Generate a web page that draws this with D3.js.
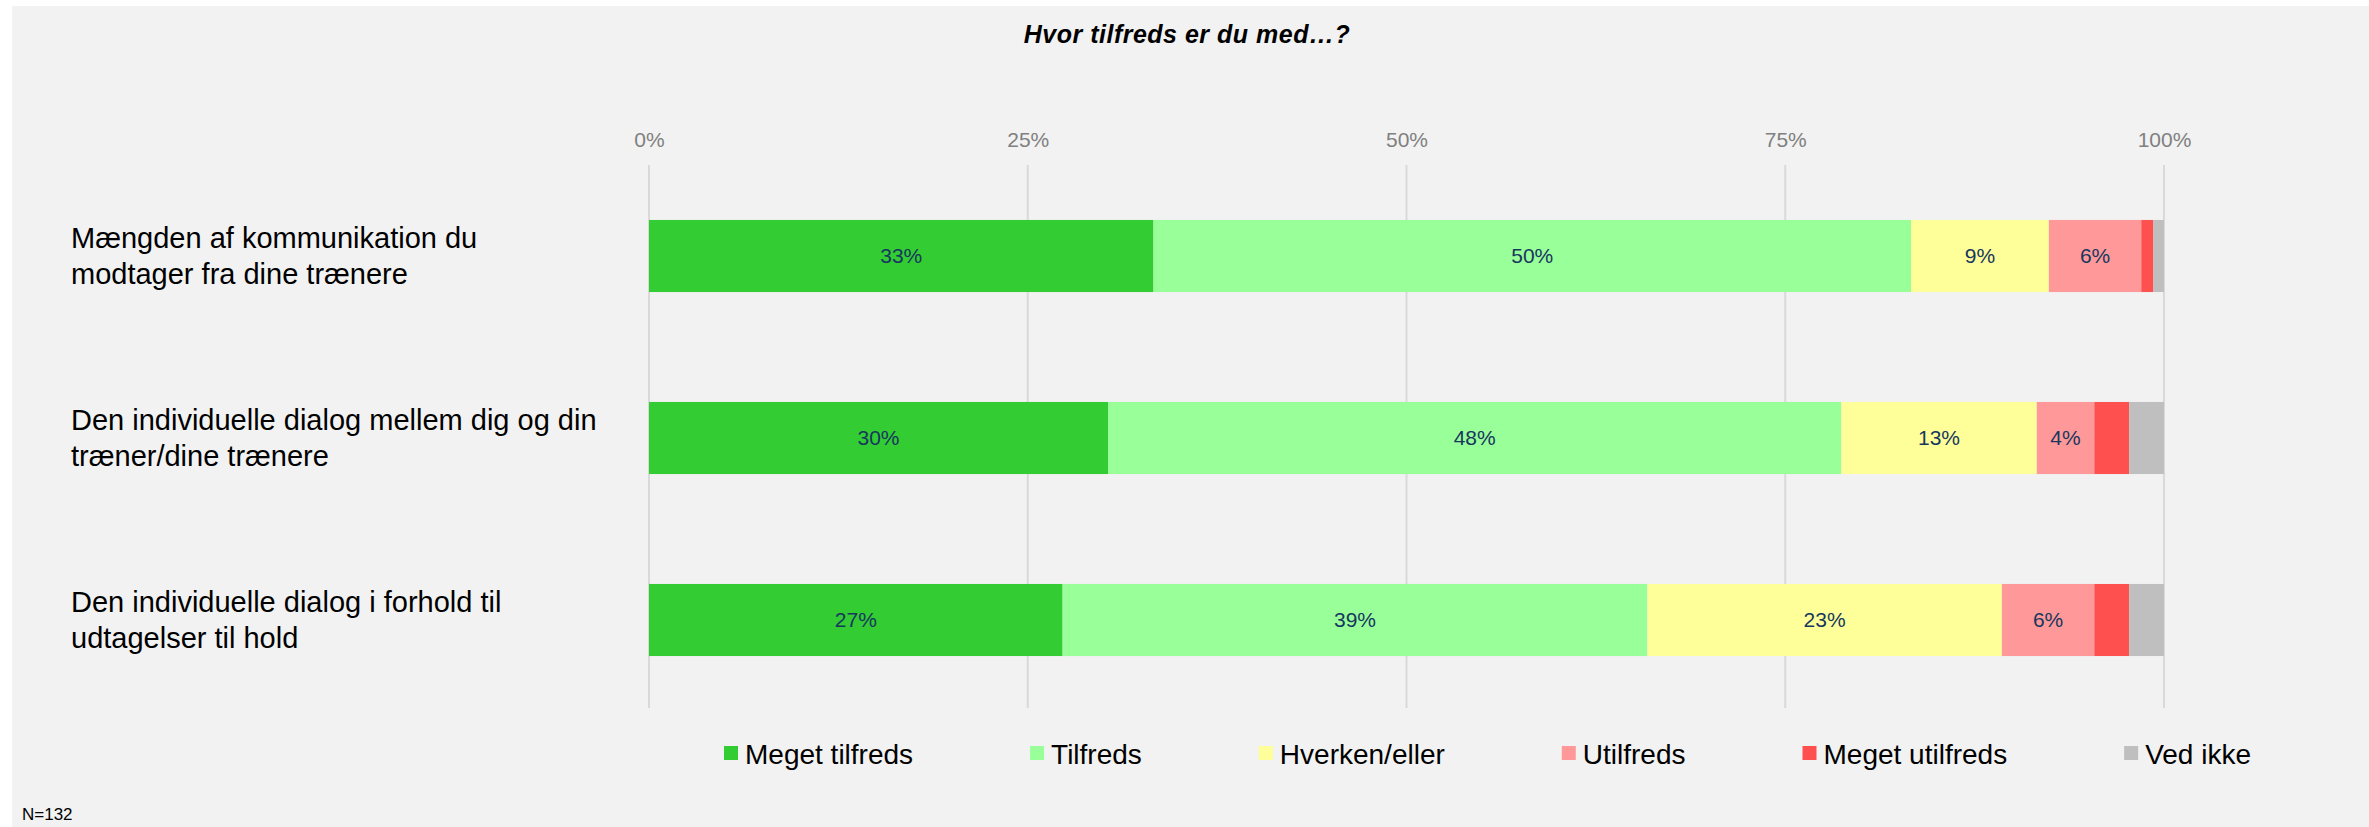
<!DOCTYPE html>
<html>
<head>
<meta charset="utf-8">
<script src="https://cdn.jsdelivr.net/npm/d3@7"></script>
<style>
  body { margin: 0; background: #ffffff; }
  svg { display: block; font-family: "Liberation Sans", Arial, sans-serif; }
</style>
</head>
<body>
<script>
// categories (explicit line breaks as in the original)
var categories = [
  "Mængden af kommunikation du\nmodtager fra dine trænere",
  "Den individuelle dialog mellem dig og din\ntræner/dine trænere",
  "Den individuelle dialog i forhold til\nudtagelser til hold"
];

var seriesNames = ["Meget tilfreds", "Tilfreds", "Hverken/eller", "Utilfreds", "Meget utilfreds", "Ved ikke"];
var seriesColors = ["#33cc33", "#99ff99", "#ffff99", "#ff9999", "#ff5050", "#bfbfbf"];

// percentages per category
var megetTilfreds  = [33.3, 30.3, 27.3];
var tilfreds       = [50.0, 48.4, 38.6];
var hverken        = [9.1, 12.9, 23.4];
var utilfreds      = [6.1, 3.8, 6.1];
var megetUtilfreds = [0.8, 2.3, 2.3];
var vedIkke        = [0.7, 2.3, 2.3];

var tickValues = [0, 0.25, 0.5, 0.75, 1];
var title = "Hvor tilfreds er du med…?";
var note = "N=132";

var width = 2369, height = 827;

var svg = d3.select("body").append("svg")
    .attr("width", width)
    .attr("height", height);

// chart area background
svg.append("rect")
    .attr("x", 12).attr("y", 6)
    .attr("width", width - 12).attr("height", height - 6)
    .attr("fill", "#f2f2f2");

// build table for the stack
var seriesValues = [megetTilfreds, tilfreds, hverken, utilfreds, megetUtilfreds, vedIkke];
var table = categories.map(function(c, i) {
  var row = {category: c};
  seriesNames.forEach(function(s, j) { row[s] = seriesValues[j][i]; });
  return row;
});

var stacked = d3.stack()
    .keys(seriesNames)
    .offset(d3.stackOffsetExpand)(table);

var x = d3.scaleLinear().domain([0, 1]).range([649, 2164]);
var y = d3.scaleBand()
    .domain(categories)
    .range([165, 711])
    .paddingInner(0.604)
    .paddingOuter(0.302);

var color = d3.scaleOrdinal().domain(seriesNames).range(seriesColors);

// gridlines
svg.append("g").selectAll("line")
    .data(tickValues)
  .join("line")
    .attr("x1", function(d) { return x(d); })
    .attr("x2", function(d) { return x(d); })
    .attr("y1", 165)
    .attr("y2", 708)
    .attr("stroke", "#d9d9d9")
    .attr("stroke-width", 2);

// top axis labels
var axis = svg.append("g")
    .attr("transform", "translate(0,147)")
    .call(d3.axisTop(x).tickValues(tickValues).tickFormat(d3.format(".0%")).tickSize(0).tickPadding(0));
axis.select(".domain").remove();
axis.selectAll("text")
    .attr("dy", 0)
    .attr("fill", "#808080")
    .style("font-size", "21px")
    .style("font-family", "'Liberation Sans', Arial, sans-serif");

// bars
var layer = svg.append("g").selectAll("g")
    .data(stacked)
  .join("g")
    .attr("fill", function(d) { return color(d.key); });

layer.selectAll("rect")
    .data(function(d) { return d; })
  .join("rect")
    .attr("x", function(d) { return x(d[0]); })
    .attr("y", function(d) { return y(d.data.category); })
    .attr("width", function(d) { return x(d[1]) - x(d[0]); })
    .attr("height", y.bandwidth());

// value labels
layer.each(function(s) {
  d3.select(this).selectAll("text")
      .data(s.filter(function(d) { return d.data[s.key] >= 3; }))
    .join("text")
      .attr("x", function(d) { return (x(d[0]) + x(d[1])) / 2; })
      .attr("y", function(d) { return y(d.data.category) + y.bandwidth() / 2; })
      .attr("dy", "0.35em")
      .attr("text-anchor", "middle")
      .attr("fill", "#17375e")
      .style("font-size", "21px")
      .text(function(d) { return Math.round(d.data[s.key]) + "%"; });
});

// category labels
var catLabels = svg.append("g").selectAll("text")
    .data(categories)
  .join("text")
    .attr("x", 71)
    .attr("y", function(d) { return y(d) + y.bandwidth() / 2; })
    .attr("fill", "#000")
    .style("font-size", "29px");

catLabels.each(function(d) {
  var lines = d.split("\n");
  var t = d3.select(this);
  lines.forEach(function(l, i) {
    t.append("tspan")
      .attr("x", 71)
      .attr("dy", i === 0 ? (-(lines.length - 1) / 2 * 36 + 10) + "px" : "36px")
      .text(l);
  });
});

// title
svg.append("text")
    .attr("x", 1187)
    .attr("y", 43)
    .attr("text-anchor", "middle")
    .style("font-size", "25px")
    .style("font-weight", "bold")
    .style("font-style", "italic")
    .style("letter-spacing", "0.5px")
    .text(title);

// legend
var legend = svg.append("g").attr("class", "legend");
var lx = 724;
seriesNames.forEach(function(s, i) {
  var g = legend.append("g").attr("transform", "translate(" + lx + ",0)");
  g.append("rect")
      .attr("x", 0).attr("y", 746)
      .attr("width", 14).attr("height", 14)
      .attr("fill", color(s));
  var t = g.append("text")
      .attr("x", 21).attr("y", 764)
      .attr("fill", "#000")
      .style("font-size", "28px")
      .text(s);
  lx += 21 + t.node().getComputedTextLength() + 117;
});

// note
svg.append("text")
    .attr("x", 22)
    .attr("y", 820)
    .attr("fill", "#000")
    .style("font-size", "17px")
    .text(note);
</script>
</body>
</html>
